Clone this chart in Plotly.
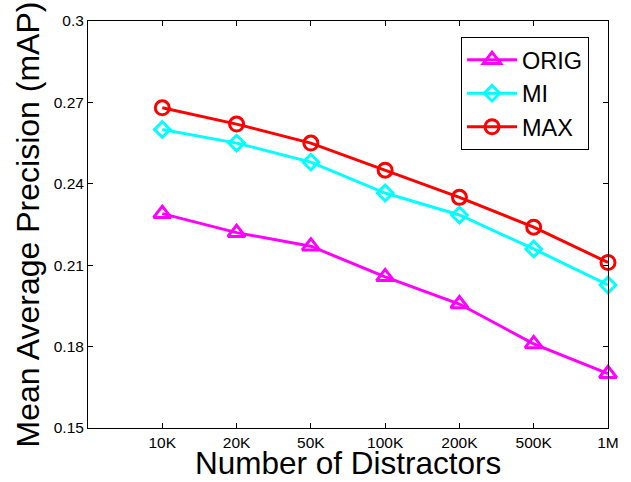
import plotly.graph_objects as go

categories = ["10K", "20K", "50K", "100K", "200K", "500K", "1M"]
orig = [0.229, 0.222, 0.217, 0.2057, 0.1957, 0.181, 0.170]
mi = [0.260, 0.255, 0.248, 0.2366, 0.2285, 0.216, 0.2027]
mx = [0.268, 0.262, 0.255, 0.245, 0.235, 0.224, 0.211]
ytick_vals = [0.15, 0.18, 0.21, 0.24, 0.27, 0.30]
ytick_text = ["0.15", "0.18", "0.21", "0.24", "0.27", "0.3"]

xpos = list(range(1, len(categories) + 1))
font = "Liberation Sans, Arial, sans-serif"

fig = go.Figure()
series = [
    ("ORIG", orig, "#ff00ff", "triangle-up-open", 15),
    ("MI", mi, "#00ffff", "diamond-open", 12),
    ("MAX", mx, "#ff0000", "circle-open", 14),
]
for name, vals, color, sym, sz in series:
    fig.add_trace(go.Scatter(
        x=xpos, y=vals, name=name, mode="lines+markers",
        line=dict(color=color, width=3),
        marker=dict(symbol=sym, size=sz, color=color, line=dict(width=3, color=color)),
        cliponaxis=False,
    ))

fig.update_layout(
    width=631, height=482,
    margin=dict(l=88, r=23, t=21, b=54),
    paper_bgcolor="white", plot_bgcolor="white",
    font=dict(family=font, color="black"),
    showlegend=True,
    legend=dict(
        x=0.9635, y=0.961, xanchor="right", yanchor="top",
        bgcolor="white", bordercolor="black", borderwidth=1,
        font=dict(size=23.5, family=font),
        itemwidth=50, tracegroupgap=0,
    ),
    xaxis=dict(
        range=[0, 7], tickvals=xpos, ticktext=categories,
        showgrid=False, zeroline=False,
        showline=True, linecolor="black", linewidth=1, mirror="ticks",
        ticks="inside", ticklen=5, tickcolor="black",
        tickfont=dict(size=15.5),
        automargin=False,
    ),
    yaxis=dict(
        range=[0.15, 0.30], tickvals=ytick_vals, ticktext=ytick_text,
        showgrid=False, zeroline=False,
        showline=True, linecolor="black", linewidth=1, mirror="ticks",
        ticks="inside", ticklen=5, tickcolor="black",
        tickfont=dict(size=15.5),
        title=dict(text="Mean Average Precision (mAP)", font=dict(size=32), standoff=4),
        automargin=False,
    ),
    annotations=[dict(
        text="Number of Distractors", xref="paper", yref="paper",
        x=0.5, y=-0.1327, xanchor="center", yanchor="bottom",
        showarrow=False, font=dict(size=31.5, family=font),
        borderpad=0,
    )],
)

fig.write_html(
    "out.html",
    config={"displayModeBar": False},
    post_script="document.body.style.margin='0';document.body.style.overflow='hidden';",
)
